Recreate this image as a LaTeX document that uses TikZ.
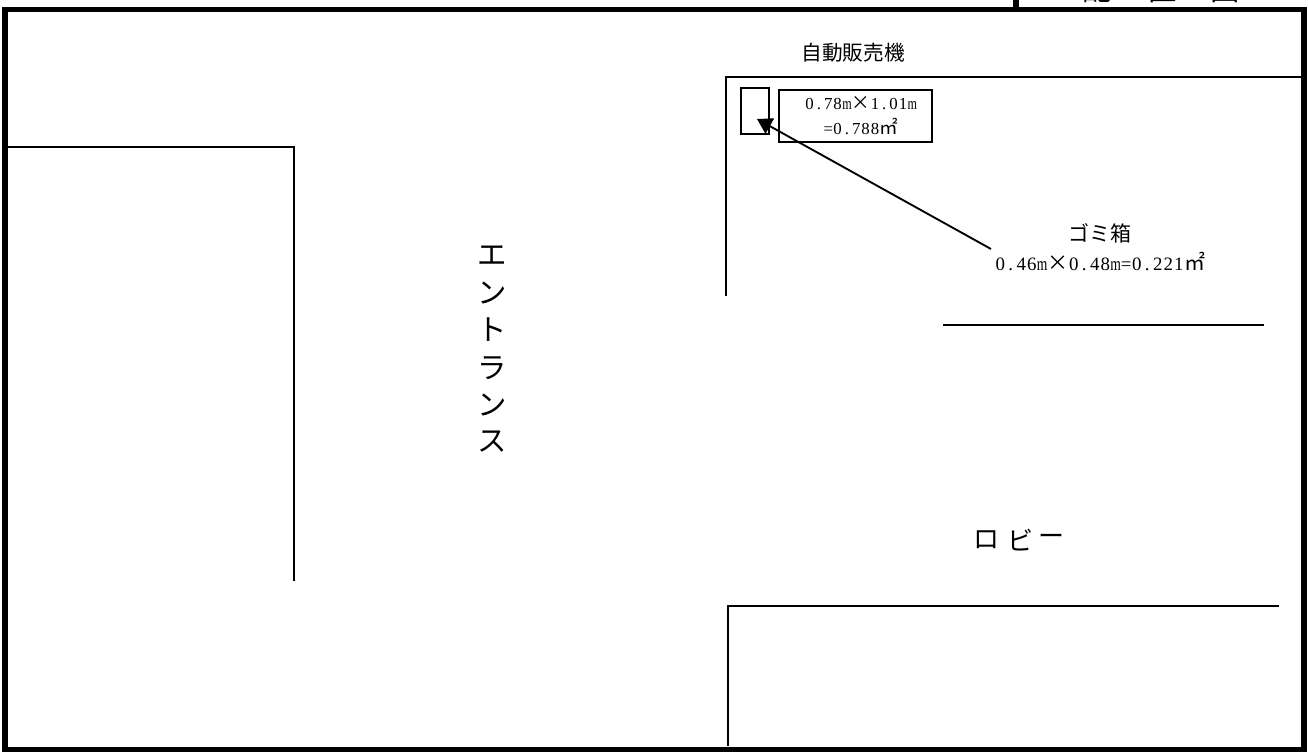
\documentclass[tikz,border=0pt]{standalone}
\usepackage{fontspec}
\setmainfont{Noto Sans CJK JP}[Script=CJK,Language=Japanese]
\newfontfamily\latinserif{Liberation Serif}[Scale=0.9]
\newlength{\hwwd}
\def\hwloop#1{\ifx#1\relax\else\makebox[\hwwd]{\ifx#1m\scalebox{0.72}[1]{m}\else #1\fi}\expandafter\hwloop\fi}
\newcommand{\lat}[1]{{\setlength{\hwwd}{0.5em}\latinserif\hwloop#1\relax}}
\usetikzlibrary{arrows.meta}
\tikzset{
  wall/.style={line width=1.5pt,draw=black},
  frameline/.style={line width=3.9pt,draw=black},
  thin box/.style={line width=1.4pt,draw=black},
  big/.style={inner sep=0pt,font=\fontsize{22}{22}\selectfont},
  lobby/.style={inner sep=0pt,font=\fontsize{19.5}{19.5}\selectfont},
  mid/.style={inner sep=0pt,font=\fontsize{15.5}{15.5}\selectfont},
  boxtext/.style={inner sep=0pt,align=center,font=\fontsize{14}{18.75}\selectfont},
  small/.style={inner sep=0pt,align=center,font=\fontsize{15.75}{21.75}\selectfont},
  leader/.style={line width=1.4pt,draw=black,-{Triangle[length=11pt,width=13pt]}}
}
\begin{document}
\begin{tikzpicture}[x=0.75pt,y=-0.75pt]
\useasboundingbox (0,0) rectangle (1308,752);
% clipped title
\begin{scope}
\clip (1019,0) rectangle (1301,7);
\node[big] (t1) at (1097,-10) {配};
\node[big] (t2) at (1162,-10) {置};
\node[big] (t3) at (1225,-10) {図};
\end{scope}
% frame
\draw[frameline] (5,9.7) rectangle (1304,750);
\draw[frameline] (1016,0) -- (1016,9);
% walls
\coordinate (a1) at (8,147); \coordinate (a2) at (294,147); \coordinate (a3) at (294,581);
\draw[wall] (a1) -- (a2) -- (a3);
\coordinate (b1) at (1302,77); \coordinate (b2) at (726,77); \coordinate (b3) at (726,296);
\draw[wall] (b1) -- (b2) -- (b3);
\coordinate (c1) at (943,325); \coordinate (c2) at (1264,325);
\draw[wall] (c1) -- (c2);
\coordinate (d1) at (1279,606); \coordinate (d2) at (728,606); \coordinate (d3) at (728,746);
\draw[wall] (d1) -- (d2) -- (d3);
% boxes
\node[thin box,minimum width=20.5pt,minimum height=34.5pt,inner sep=0pt] (bin) at (755,111) {};
\node[thin box,minimum width=115pt,minimum height=39pt,inner sep=0pt] (size) at (855.5,116) {};
\node[boxtext] (sizetext) at (861,115.5) {\lat{0.78m}×\lat{1.01m}\\\lat{=0.788}㎡};
% labels
\node[mid] (vend) at (853,53) {自動販売機};
\node[small] (binlab) at (1100,247.5) {ゴミ箱\\\lat{0.46m}×\lat{0.48m=0.221}㎡};
\coordinate (from) at (991,249);
\coordinate (to) at (757,119);
\draw[leader] (from) -- (to);
\foreach \c/\y/\n in {エ/255.5/e1,ン/293/e2,ト/330/e3,ラ/368/e4,ン/405/e5,ス/442/e6}
  \node[big] (\n) at (492,\y) {\c};
\node[lobby] (lo1) at (986,540) {ロ};
\node[lobby] (lo2) at (1020,540) {ビ};
\node[lobby] (lo3) at (1051,540) {ー};
\end{tikzpicture}
\end{document}
